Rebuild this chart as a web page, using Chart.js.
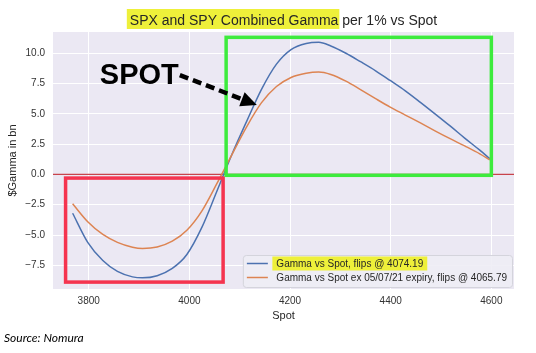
<!DOCTYPE html>
<html><head><meta charset="utf-8">
<script src="https://cdn.jsdelivr.net/npm/chart.js@4/dist/chart.umd.min.js"></script>
<style>html,body{margin:0;padding:0;background:#fff;overflow:hidden}#wrap{width:536px;height:353px}</style>
</head><body><div id="wrap"><canvas id="c" width="536" height="353"></canvas></div>
<script>
// ---- data ----
const spot = [3768, 3798, 3828, 3857, 3887, 3907, 3936, 3966, 3995, 4025, 4054, 4084, 4114, 4143, 4173, 4202, 4232, 4257, 4281, 4311, 4340, 4370, 4399, 4429, 4459, 4488, 4518, 4547, 4577, 4597];
const gammaAll = [-3.2, -5.6, -7.1, -8.0, -8.45, -8.53, -8.35, -7.75, -6.6, -4.35, -1.45, 1.6, 4.4, 7.0, 9.1, 10.3, 10.8, 10.9, 10.6, 10.0, 9.3, 8.55, 7.75, 6.9, 5.95, 5.0, 4.0, 3.0, 2.0, 1.3];
const gammaEx = [-2.42, -3.9, -4.95, -5.6, -6.0, -6.1, -5.98, -5.5, -4.6, -3.0, -0.8, 1.6, 3.95, 5.9, 7.25, 8.0, 8.35, 8.45, 8.25, 7.7, 7.0, 6.25, 5.55, 4.9, 4.25, 3.6, 2.95, 2.35, 1.7, 1.2];
const xTicks = [3800, 4000, 4200, 4400, 4600];
const yTicks = [-7.5, -5, -2.5, 0, 2.5, 5, 7.5, 10];
const titleHi = 'SPX and SPY Combined Gamma';
const titleRest = ' per 1% vs Spot';
const labelAll = 'Gamma vs Spot, flips @ 4074.19';
const labelEx = 'Gamma vs Spot ex 05/07/21 expiry, flips @ 4065.79';
const xTitle = 'Spot';
const yTitle = '$Gamma in bn';
const sourceText = 'Source: Nomura';
const spotText = 'SPOT';

// annotation placement (data coordinates)
const redBox = {x0: 3754, x1: 4067, y0: -0.3, y1: -8.88};
const greenBox = {x0: 4073, x1: 4600, y0: 11.31, y1: -0.07};
const spotLabelAt = {x: 3822, y: 7.5};
const arrowFrom = {x: 3981, y: 8.2};
const arrowTo = {x: 4134, y: 5.73};

const FONT = '"Liberation Sans", Arial, sans-serif';
const BLUE = '#4C72B0', ORANGE = '#DD8452';

const deco = {
  id: 'deco',
  beforeDraw(chart) {
    const {ctx, chartArea: a} = chart;
    ctx.save();
    ctx.fillStyle = '#fff';
    ctx.fillRect(0, 0, chart.width, chart.height);
    ctx.fillStyle = '#EBE8F3';
    ctx.fillRect(a.left, a.top, a.right - a.left, a.bottom - a.top);
    ctx.restore();
  },
  beforeDatasetsDraw(chart) {
    const {ctx, chartArea: a, scales: {y}} = chart;
    const py = y.getPixelForValue(0);
    ctx.save();
    ctx.strokeStyle = '#C8434B';
    ctx.lineWidth = 1.3;
    ctx.beginPath(); ctx.moveTo(a.left, py); ctx.lineTo(a.right, py); ctx.stroke();
    ctx.restore();
  },
  afterDatasetsDraw(chart) {
    const {ctx, chartArea: a, scales: {x, y}} = chart;
    ctx.save();
    const box = (b, color) => {
      const l = x.getPixelForValue(b.x0), r = x.getPixelForValue(b.x1);
      const t = y.getPixelForValue(b.y0), bt = y.getPixelForValue(b.y1);
      ctx.strokeStyle = color; ctx.lineWidth = 3.5;
      ctx.strokeRect(l, t, r - l, bt - t);
    };
    box(redBox, '#F5344F');
    box(greenBox, '#3DEB3D');

    // SPOT label
    ctx.fillStyle = '#000';
    ctx.font = 'bold 29px ' + FONT;
    ctx.textBaseline = 'alphabetic';
    ctx.textAlign = 'left';
    ctx.fillText(spotText, x.getPixelForValue(spotLabelAt.x), y.getPixelForValue(spotLabelAt.y));

    // dashed arrow
    const x1 = x.getPixelForValue(arrowFrom.x), y1 = y.getPixelForValue(arrowFrom.y);
    const x2 = x.getPixelForValue(arrowTo.x), y2 = y.getPixelForValue(arrowTo.y);
    const ang = Math.atan2(y2 - y1, x2 - x1);
    const hl = 16, hw = 7.5;
    const bx = x2 - hl * Math.cos(ang), by = y2 - hl * Math.sin(ang);
    ctx.strokeStyle = '#000'; ctx.lineWidth = 4.5; ctx.setLineDash([9, 5]);
    ctx.beginPath(); ctx.moveTo(x1, y1); ctx.lineTo(bx, by); ctx.stroke();
    ctx.setLineDash([]);
    ctx.beginPath();
    ctx.moveTo(x2, y2);
    ctx.lineTo(bx + hw * Math.sin(ang), by - hw * Math.cos(ang));
    ctx.lineTo(bx - hw * Math.sin(ang), by + hw * Math.cos(ang));
    ctx.closePath(); ctx.fill();

    // legend
    ctx.font = '10px ' + FONT;
    const tw = Math.max(ctx.measureText(labelAll).width, ctx.measureText(labelEx).width);
    const boxW = 4 + 21 + 8.5 + tw + 5;
    const boxH = 32;
    const bxR = a.right - 2, bxB = a.bottom - 2;
    const lx = bxR - boxW, ly = bxB - boxH;
    ctx.fillStyle = 'rgba(238,237,245,0.9)';
    ctx.strokeStyle = '#D4D4DC';
    ctx.lineWidth = 1;
    ctx.beginPath();
    if (ctx.roundRect) ctx.roundRect(lx + 0.5, ly + 0.5, boxW, boxH, 3); else ctx.rect(lx + 0.5, ly + 0.5, boxW, boxH);
    ctx.fill(); ctx.stroke();
    const rows = [[labelAll, BLUE, ly + 8.5, true], [labelEx, ORANGE, ly + 22.5, false]];
    const tx = lx + 4 + 21 + 8.5;
    rows.forEach(([txt, col, ry, hi]) => {
      if (hi) {
        ctx.fillStyle = '#EEF03A';
        ctx.fillRect(tx - 4, ry - 7, ctx.measureText(txt).width + 8, 14);
      }
      ctx.strokeStyle = col; ctx.lineWidth = 1.5;
      ctx.beginPath(); ctx.moveTo(lx + 4, ry); ctx.lineTo(lx + 25, ry); ctx.stroke();
      ctx.fillStyle = '#262626';
      ctx.textBaseline = 'middle';
      ctx.fillText(txt, tx, ry + 0.5);
    });
    ctx.restore();
  },
  afterDraw(chart) {
    const {ctx, chartArea: a} = chart;
    ctx.save();
    ctx.font = '14px ' + FONT;
    const w1 = ctx.measureText(titleHi).width, w2 = ctx.measureText(titleRest).width;
    const cx = (a.left + a.right) / 2;
    const sx = cx - (w1 + w2) / 2;
    const base = 25;
    ctx.fillStyle = '#EEF03A';
    ctx.fillRect(sx - 3, 9, w1 + 4, 20);
    ctx.fillStyle = '#262626';
    ctx.textBaseline = 'alphabetic';
    ctx.textAlign = 'left';
    ctx.fillText(titleHi, sx, base);
    ctx.fillText(titleRest, sx + w1, base);
    ctx.font = 'italic 12px Lato, "Open Sans", sans-serif';
    ctx.fillStyle = '#000';
    ctx.fillText(sourceText, 4, 342);
    ctx.restore();
  }
};

const chart = new Chart(document.getElementById('c'), {
  type: 'line',
  data: {
    datasets: [
      {label: labelAll, data: spot.map((v, i) => ({x: v, y: gammaAll[i]})), borderColor: BLUE, borderWidth: 1.5, pointRadius: 0, cubicInterpolationMode: 'monotone', fill: false, order: 2},
      {label: labelEx, data: spot.map((v, i) => ({x: v, y: gammaEx[i]})), borderColor: ORANGE, borderWidth: 1.5, pointRadius: 0, cubicInterpolationMode: 'monotone', fill: false, order: 1}
    ]
  },
  options: {
    responsive: false,
    devicePixelRatio: 1,
    animation: false,
    layout: {padding: {top: 32, right: 22, left: 0, bottom: 0}},
    plugins: {legend: {display: false}, title: {display: false}, tooltip: {enabled: false}},
    scales: {
      x: {
        type: 'linear', min: 3729, max: 4645,
        afterBuildTicks: s => { s.ticks = xTicks.map(v => ({value: v})); },
        afterFit: s => { s.height = 64; },
        ticks: {autoSkip: false, maxRotation: 0, padding: 6, color: '#333', font: {family: FONT, size: 10}, callback: v => String(v)},
        grid: {color: '#ffffff', lineWidth: 1, drawTicks: false},
        border: {display: false},
        title: {display: true, text: xTitle, color: '#262626', font: {family: FONT, size: 11}, padding: {top: 0, bottom: 30}}
      },
      y: {
        type: 'linear', min: -9.45, max: 11.75,
        afterBuildTicks: s => { s.ticks = yTicks.map(v => ({value: v})); },
        afterFit: s => { s.width = 53; },
        ticks: {autoSkip: false, padding: 8, color: '#333', font: {family: FONT, size: 10}, callback: v => v.toFixed(1).replace('-', '\u2212')},
        grid: {color: '#ffffff', lineWidth: 1, drawTicks: false},
        border: {display: false},
        title: {display: true, text: yTitle, color: '#262626', font: {family: FONT, size: 11}, padding: {top: 6, bottom: 0}}
      }
    }
  },
  plugins: [deco]
});
</script>
</body></html>
